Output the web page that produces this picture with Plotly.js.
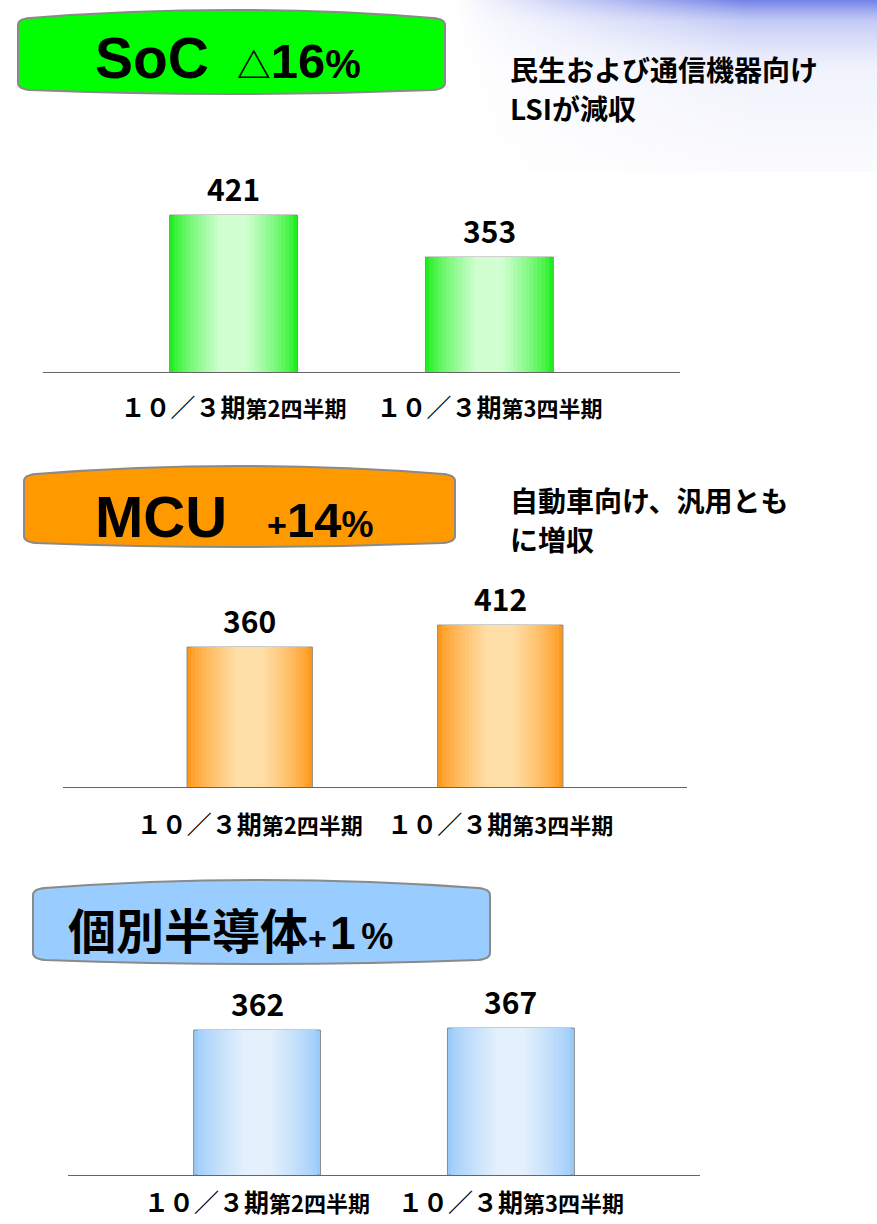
<!DOCTYPE html>
<html>
<head>
<meta charset="utf-8">
<script src="https://cdn.plot.ly/plotly-3.0.1.min.js"></script>
<style>html,body{margin:0;padding:0;background:#fff;}#chart{width:877px;height:1224px;}</style>
</head>
<body>
<div id="chart"></div>
<script>
// ---- data ----
const quarters = ['１０／３期第2四半期', '１０／３期第3四半期'];
const socValues = [421, 353];
const mcuValues = [360, 412];
const discreteValues = [362, 367];
const socTitle = ['SoC', '△', '16', '%'];
const mcuTitle = ['MCU', '+', '14', '%'];
const discreteTitle = ['個別半導体', '+', '1', '%'];
const socNote = ['民生および通信機器向け', 'LSIが減収'];
const mcuNote = ['自動車向け、汎用とも', 'に増収'];

// ---- helpers ----
const W = 877, H = 1224;
const px = x => x / W;
const py = y => 1 - y / H;
const JP = 'Noto Sans CJK JP';
const LAT = 'Liberation Sans, Noto Sans CJK JP';

function hex2rgb(h){h=h.replace('#','');return [0,2,4].map(i=>parseInt(h.substr(i,2),16));}
function lerp(a,b,t){const A=hex2rgb(a),B=hex2rgb(b);return 'rgb('+A.map((v,i)=>Math.round(v+(B[i]-v)*t)).join(',')+')';}

function gradBars(vals, xa, ya, edge, center){
  const N = 16, traces = [];
  for(let k=0;k<N;k++){
    const t = Math.min(1, Math.pow(k/(N-1), 0.75) * 1.15);
    traces.push({
      type:'bar', x:quarters, y:vals, xaxis:xa, yaxis:ya,
      width: 0.5*(1-k/N),
      marker:{color:lerp(edge,center,t), line:{width:k===0?1:0, color:'#8a8a8a'}},
      hoverinfo:'skip', showlegend:false
    });
  }
  return traces;
}

function pill(x0, yt, x1, yb){
  const st = yt + 15, sb = yb - 11, xm = (x0+x1)/2;
  const P = (x,y)=>px(x).toFixed(5)+','+py(y).toFixed(5);
  return 'M '+P(x0,sb)+' L '+P(x0,st)+
    ' Q '+P(x0,st-6)+' '+P(x0+12,st-7)+
    ' Q '+P(xm,2*yt-(st-7))+' '+P(x1-12,st-7)+
    ' Q '+P(x1,st-6)+' '+P(x1,st)+
    ' L '+P(x1,sb)+
    ' Q '+P(x1,sb+6)+' '+P(x1-12,sb+7)+
    ' Q '+P(xm,2*yb-(sb+7))+' '+P(x0+12,sb+7)+
    ' Q '+P(x0,sb+6)+' '+P(x0,sb)+' Z';
}

const tickText = quarters.map(q => '<span style="font-size:25px">'+q.slice(0,5)+'</span><span style="font-size:22px">'+q.slice(5)+'</span>');

function xAxis(d0, d1, anchor, standoff){
  return {domain:[px(d0),px(d1)], anchor:anchor, type:'category', range:[-0.745,1.745],
    showline:true, linecolor:'#666', linewidth:1, ticks:'', tickmode:'array',
    tickvals:quarters, ticktext:tickText, ticklabelstandoff:standoff,
    tickfont:{family:JP, size:23, color:'#000', weight:700},
    showgrid:false, zeroline:false, fixedrange:true};
}
function yAxis(bot, top, range, anchor){
  return {domain:[py(bot),py(top)], anchor:anchor, range:range, visible:false, fixedrange:true};
}

const traces = []
  .concat(gradBars(socValues,'x','y','#1ef01e','#d2ffd2'))
  .concat(gradBars(mcuValues,'x2','y2','#ff981a','#ffdfa8'))
  .concat(gradBars(discreteValues,'x3','y3','#99cafa','#e4f0fc'));

const valAnn = [];
[[socValues,'x','y'],[mcuValues,'x2','y2'],[discreteValues,'x3','y3']].forEach(([vals,xr,yr])=>{
  vals.forEach((v,i)=>valAnn.push({xref:xr, yref:yr, x:quarters[i], y:v, text:String(v),
    showarrow:false, yanchor:'bottom', yshift:3, font:{family:JP, size:30, color:'#000', weight:700}}));
});

const sp = (n,s)=>'<span style="font-size:'+s+'px">'+'\u00a0'.repeat(n)+'</span>';
const noteAnn = (lines, x, yc, gap) => lines.map((t,i)=>({xref:'paper', yref:'paper', x:px(x),
  y:py(yc + (i-(lines.length-1)/2)*gap), xanchor:'left', yanchor:'middle', align:'left', showarrow:false,
  font:{family:JP, size:28, color:'#000', weight:700}, text:t}));

const titleAnn = [
  {xref:'paper', yref:'paper', x:px(93), y:py(58), xanchor:'left', yanchor:'middle', showarrow:false,
   font:{family:LAT, size:48, color:'#000', weight:700},
   text:'<span style="font-size:57px">'+socTitle[0]+'</span>'+sp(2,50)+
        '<span style="font-size:34px">'+socTitle[1]+'</span><span style="font-size:49px">'+socTitle[2]+
        '</span><span style="font-size:40px">'+socTitle[3]+'</span>'},
  {xref:'paper', yref:'paper', x:px(93), y:py(516), xanchor:'left', yanchor:'middle', showarrow:false,
   font:{family:LAT, size:48, color:'#000', weight:700},
   text:'<span style="font-size:58px">'+mcuTitle[0]+'</span>'+sp(3,48)+
        '<span style="font-size:34px">'+mcuTitle[1]+'</span><span style="font-size:49px">'+mcuTitle[2]+
        '</span><span style="font-size:36px">'+mcuTitle[3]+'</span>'},
  {xref:'paper', yref:'paper', x:px(66), y:py(928), xanchor:'left', yanchor:'middle', showarrow:false,
   font:{family:LAT, size:48, color:'#000', weight:700},
   text:'<span style="font-size:48px;font-family:Noto Sans CJK JP">'+discreteTitle[0]+'</span>'+
        '<span style="font-size:32px">'+discreteTitle[1]+'</span>'+sp(1,12)+'<span style="font-size:46px">'+discreteTitle[2]+
        '</span>'+sp(1,20)+'<span style="font-size:36px">'+discreteTitle[3]+'</span>'}
].concat(noteAnn(socNote, 508, 88, 39)).concat(noteAnn(mcuNote, 508, 519, 39));

const shapes = [
  {type:'path', xref:'paper', yref:'paper', path:pill(18,10,445,94), fillcolor:'#00ff00', line:{color:'#8a8a8a', width:2}, layer:'below'},
  {type:'path', xref:'paper', yref:'paper', path:pill(24,466,455,547), fillcolor:'#ff9900', line:{color:'#8a8a8a', width:2}, layer:'below'},
  {type:'path', xref:'paper', yref:'paper', path:pill(33,880,490,964), fillcolor:'#99ccff', line:{color:'#8a8a8a', width:2}, layer:'below'}
];

const bgSvg = "<svg xmlns='http://www.w3.org/2000/svg' width='877' height='172' preserveAspectRatio='none'>"+
  "<defs><linearGradient id='v' x1='0' y1='0' x2='0' y2='1'>"+
  "<stop offset='0' stop-color='#6a7ae6' stop-opacity='0.95'/>"+
  "<stop offset='0.12' stop-color='#9aa6ee' stop-opacity='0.6'/>"+
  "<stop offset='0.4' stop-color='#d6dbf6' stop-opacity='0.35'/>"+
  "<stop offset='1' stop-color='#f2f3fb' stop-opacity='0.3'/></linearGradient>"+
  "<linearGradient id='h' x1='0' y1='0' x2='1' y2='0'>"+
  "<stop offset='0.52' stop-color='#fff' stop-opacity='0'/>"+
  "<stop offset='0.85' stop-color='#fff' stop-opacity='1'/>"+
  "<stop offset='1' stop-color='#fff' stop-opacity='1'/></linearGradient>"+
  "<mask id='m'><rect width='877' height='172' fill='url(#h)'/></mask></defs>"+
  "<rect width='877' height='172' fill='url(#v)' mask='url(#m)'/></svg>";

const layout = {
  width:W, height:H, margin:{l:0,r:0,t:0,b:0}, autosize:false,
  paper_bgcolor:'#ffffff', plot_bgcolor:'rgba(0,0,0,0)',
  barmode:'overlay', showlegend:false, hovermode:false,
  xaxis:xAxis(43,680,'y',16), yaxis:yAxis(372,170,[167,494],'x'),
  xaxis2:xAxis(63,687,'y2',18), yaxis2:yAxis(787,590,[29,495],'x2'),
  xaxis3:xAxis(68,700,'y3',8), yaxis3:yAxis(1175,980,[0,487],'x3'),
  annotations: valAnn.concat(titleAnn),
  shapes: shapes,
  images:[{source:'data:image/svg+xml;charset=utf-8,'+encodeURIComponent(bgSvg), xref:'paper', yref:'paper',
    x:0, y:1, sizex:1, sizey:172/H, sizing:'stretch', xanchor:'left', yanchor:'top', layer:'below'}]
};

Plotly.newPlot('chart', traces, layout, {displayModeBar:false, staticPlot:true});
</script>
</body>
</html>
